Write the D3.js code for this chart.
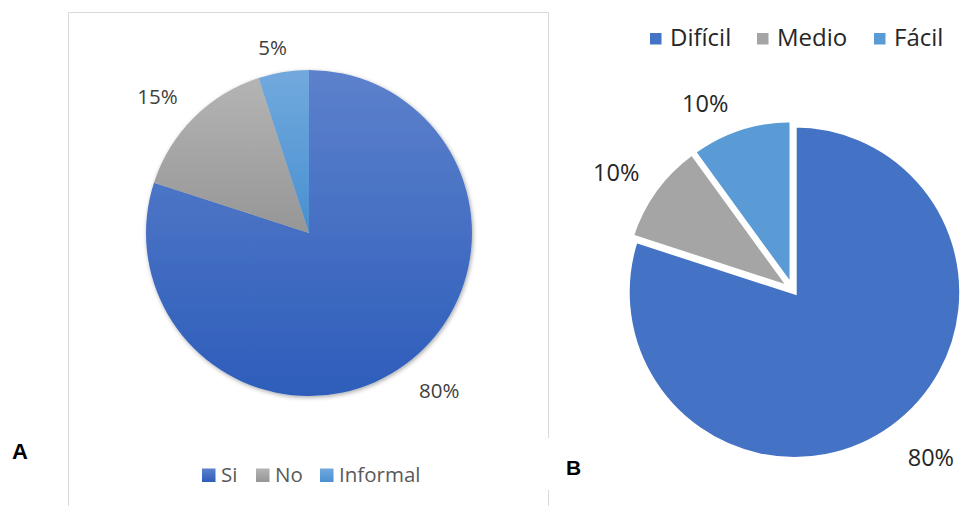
<!DOCTYPE html>
<html>
<head>
<meta charset="utf-8">
<script src="https://cdn.jsdelivr.net/npm/d3@7/dist/d3.min.js"></script>
<style>
  html, body { margin: 0; padding: 0; background: #ffffff; }
  svg { display: block; }
</style>
</head>
<body>
<svg id="chart" width="960" height="506"></svg>
<script>
// ---- Data ----
const categoriesA = ["Si", "No", "Informal"];
const valuesA = [80, 15, 5];
const categoriesB = ["Difícil", "Medio", "Fácil"];
const valuesB = [80, 10, 10];

// ---- Styles ----
const gradA = [["#5d81cc", "#2d5dba"], ["#b4b4b4", "#969696"], ["#72a9dd", "#4890d2"]];
const colorsB = ["#4472c4", "#a5a5a5", "#5b9bd5"];
const fontFamily = "'Open Sans', 'Noto Sans', sans-serif";

const svg = d3.select("#chart");
const defs = svg.append("defs");

gradA.forEach((g, i) => {
  const lg = defs.append("linearGradient").attr("id", "gA" + i)
    .attr("x1", 0).attr("y1", 0).attr("x2", 0).attr("y2", 1);
  lg.append("stop").attr("offset", "0%").attr("stop-color", g[0]);
  lg.append("stop").attr("offset", "100%").attr("stop-color", g[1]);
});
const f = defs.append("filter").attr("id", "shadow")
  .attr("x", "-10%").attr("y", "-10%").attr("width", "120%").attr("height", "120%");
f.append("feDropShadow").attr("dx", 1).attr("dy", 1.5).attr("stdDeviation", 2.2)
  .attr("flood-color", "#000").attr("flood-opacity", 0.35);

// ---- Panel A frame ----
const frame = svg.append("g").attr("stroke", "#d9d9d9").attr("stroke-width", 1).attr("fill", "none");
frame.append("path").attr("d", "M68.5,506 V12.5 H548.5 V438");
frame.append("path").attr("d", "M548.5,490 V506");

// ---- Pie A ----
const pie = d3.pie().sort(null).value(d => d.v);
const dataA = categoriesA.map((c, i) => ({ c, v: valuesA[i], i }));
const arcsA = pie(dataA);
const cxA = 309, cyA = 233, rA = 163;
const arcA = d3.arc().innerRadius(0).outerRadius(rA);
const gA = svg.append("g").attr("transform", `translate(${cxA},${cyA})`);
gA.append("g").attr("filter", "url(#shadow)")
  .selectAll("path").data(arcsA).join("path")
  .attr("d", arcA)
  .attr("fill", d => `url(#gA${d.data.i})`);

// labels A: outside end, at mid angle with small nudges
const labelArcA = d3.arc().innerRadius(rA + 38).outerRadius(rA + 38);
const nudgeA = [[12, -5.5], [-9.5, 5], [-5, 13]];
gA.selectAll("text.lbl").data(arcsA).join("text")
  .attr("class", "lbl")
  .attr("x", d => labelArcA.centroid(d)[0] + nudgeA[d.data.i][0])
  .attr("y", d => labelArcA.centroid(d)[1] + nudgeA[d.data.i][1])
  .attr("text-anchor", "middle").attr("dominant-baseline", "central")
  .attr("font-family", fontFamily).attr("font-size", 20.5).attr("fill", "#404040")
  .text(d => d3.format(".0%")(d.data.v / d3.sum(valuesA)));

// legend A
const legA = svg.append("g").attr("font-family", fontFamily).attr("font-size", 20.5).attr("fill", "#595959");
const legAx = [202, 256, 320];
categoriesA.forEach((c, i) => {
  legA.append("rect").attr("x", legAx[i]).attr("y", 468.5).attr("width", 13.5).attr("height", 13.5)
    .attr("fill", `url(#gA${i})`);
  legA.append("text").attr("x", legAx[i] + 19).attr("y", 482).text(c);
});

// Label A
svg.append("text").attr("x", 12).attr("y", 458.5)
  .attr("font-family", "'Liberation Sans', Arial, sans-serif").attr("font-weight", "bold")
  .attr("font-size", 22).attr("fill", "#000").text("A");

// ---- Pie B ----
const dataB = categoriesB.map((c, i) => ({ c, v: valuesB[i], i }));
const arcsB = pie(dataB);
const cxB = 792.7, cyB = 289.8, rB = 167;
const explode = 3;
const arcB = d3.arc().innerRadius(0).outerRadius(rB);
const gB = svg.append("g").attr("transform", `translate(${cxB},${cyB})`);
gB.selectAll("path").data(arcsB).join("path")
  .attr("transform", d => {
    const m = (d.startAngle + d.endAngle) / 2;
    return `translate(${explode * Math.sin(m)},${-explode * Math.cos(m)})`;
  })
  .attr("d", arcB)
  .attr("fill", d => colorsB[d.data.i])
  .attr("stroke", "#ffffff").attr("stroke-width", 4.5).attr("stroke-linejoin", "miter");

const labelArcB = d3.arc().innerRadius(rB + 40).outerRadius(rB + 40);
const nudgeB = [[16.5, 0], [-9, 4], [-23.5, 10.5]];
gB.selectAll("text.lbl").data(arcsB).join("text")
  .attr("class", "lbl")
  .attr("x", d => labelArcB.centroid(d)[0] + nudgeB[d.data.i][0])
  .attr("y", d => labelArcB.centroid(d)[1] + nudgeB[d.data.i][1])
  .attr("text-anchor", "middle").attr("dominant-baseline", "central")
  .attr("font-family", fontFamily).attr("font-size", 23.5).attr("fill", "#262626")
  .text(d => d3.format(".0%")(d.data.v / d3.sum(valuesB)));

// legend B
const legB = svg.append("g").attr("font-family", fontFamily).attr("font-size", 24).attr("fill", "#262626");
const legBx = [650, 757, 874];
categoriesB.forEach((c, i) => {
  legB.append("rect").attr("x", legBx[i]).attr("y", 33).attr("width", 11.5).attr("height", 11.5)
    .attr("fill", colorsB[i]);
  legB.append("text").attr("x", legBx[i] + 20).attr("y", 46).text(c);
});

// Label B
svg.append("text").attr("x", 566).attr("y", 475)
  .attr("font-family", "'Liberation Sans', Arial, sans-serif").attr("font-weight", "bold")
  .attr("font-size", 21).attr("fill", "#000").text("B");
</script>
</body>
</html>
